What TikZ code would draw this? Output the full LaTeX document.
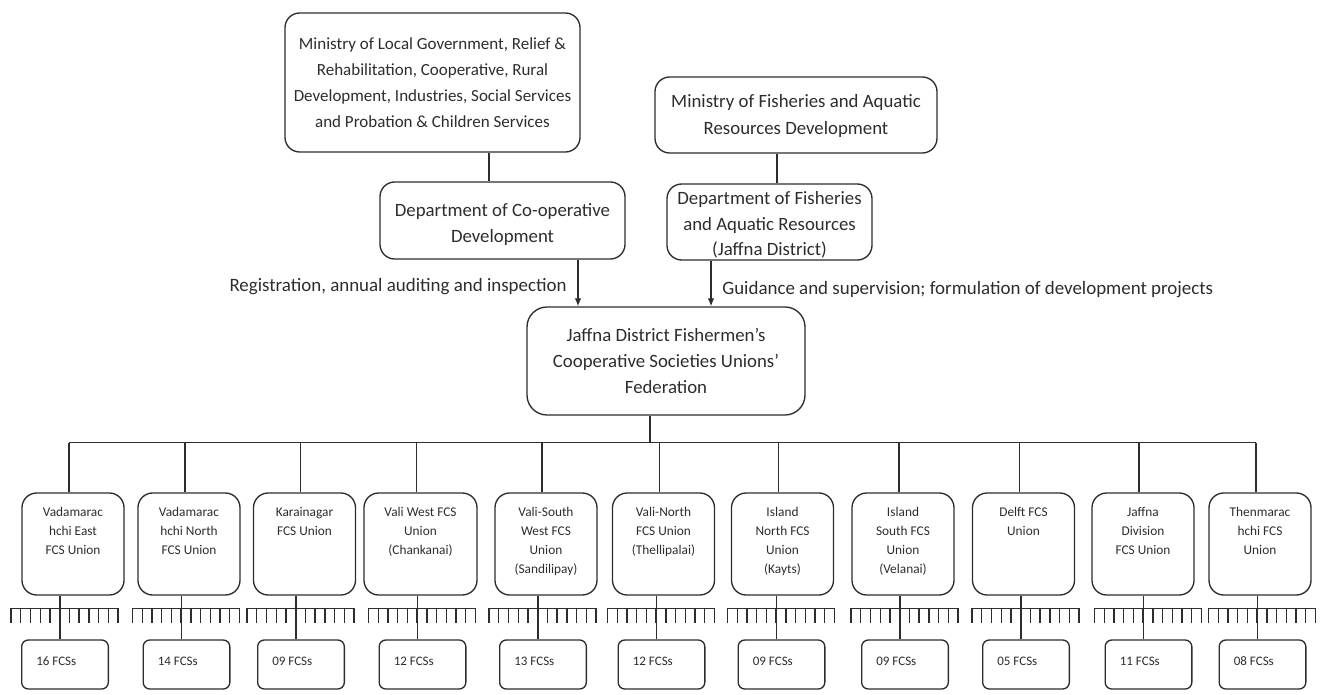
\documentclass[tikz,border=0pt]{standalone}
\usepackage{fontspec}
\setmainfont{Carlito}
\usetikzlibrary{calc,arrows.meta}

\definecolor{ink}{RGB}{45,45,45}

\tikzset{every picture/.style={line width=1pt}}
\tikzset{
  govbox/.style={draw=ink, text=ink, rounded corners=11pt, align=flush center, inner sep=0pt,
    font=\fontsize{14.1}{19.8}\selectfont},
  unionbox/.style={draw=ink, text=ink, rounded corners=11pt, align=flush center,
    text width=62pt, inner xsep=7.25pt, inner ysep=5pt,
    text height=12.25pt, text depth=54.25pt,
    font=\fontsize{10}{14.25}\selectfont},
  fcsbox/.style={draw=ink, text=ink, rounded corners=5pt, align=flush left,
    text width=43pt, inner xsep=11pt, inner ysep=4pt,
    text height=14.75pt, text depth=14pt,
    font=\fontsize{9.75}{12}\selectfont},
  lab/.style={text=ink, inner sep=0pt, font=\fontsize{14.2}{17}\selectfont},
  arr/.style={draw=ink, -{Latex[length=6pt,width=5pt]}}
}

\begin{document}
\begin{tikzpicture}[x=0.75pt,y=0.75pt,yscale=-1,xscale=1]
	\useasboundingbox (0,0) rectangle (1321,695);
	
	%Shape: Rounded Rect, ministries
	\node[govbox, font=\fontsize{12.75}{19.5}\selectfont, minimum width=221.25pt, minimum height=104.25pt] (minlg) at (432.5,82.5)
	  {Ministry of Local Government, Relief \&\\Rehabilitation, Cooperative, Rural\\Development, Industries, Social Services\\and Probation \& Children Services};
	\node[govbox, font=\fontsize{14.1}{20.25}\selectfont, text width=211.5pt, text height=23.25pt, text depth=33.75pt] (minfa) at (796,115)
	  {Ministry of Fisheries and Aquatic\\Resources Development};
	%Shape: Rounded Rect, departments
	\node[govbox, font=\fontsize{14.1}{19.5}\selectfont, text width=183.75pt, text height=26.25pt, text depth=31.5pt] (dcd) at (502.5,220.5)
	  {Department of Co-operative\\Development};
	\node[govbox, font=\fontsize{14.1}{19.1}\selectfont, text width=153.75pt, text height=15.75pt, text depth=41.25pt] (dfar) at (769.5,222)
	  {Department of Fisheries\\and Aquatic Resources\\(Jaffna District)};
	%Shape: Rounded Rect, federation
	\node[govbox, rounded corners=15pt, minimum width=208.5pt, minimum height=81pt] (fed) at (666,361)
	  {Jaffna District Fishermen's\\Cooperative Societies Unions'\\Federation};
	
	%Straight Lines, ministry to department
	\coordinate (j1) at ($(minlg.south)+(56.5,0)$);
	\draw[ink] (j1) -- (j1 |- dcd.north);
	\coordinate (j2) at ($(dfar.north)+(7.5,0)$);
	\draw[ink] (minfa.south -| j2) -- (j2);
	
	%Arrows into the federation
	\coordinate (a1) at ($(dcd.south)+(75.5,0)$);
	\draw[arr] (a1) -- (a1 |- fed.north)
	  node[lab, pos=0.58, left=8pt] (regtxt) {Registration, annual auditing and inspection};
	\coordinate (a2) at ($(dfar.south)+(-58.5,0)$);
	\draw[arr] (a2) -- (a2 |- fed.north)
	  node[lab, pos=0.64, right=8pt] (guidetxt) {Guidance and supervision; formulation of development projects};
	
	%Straight Lines, federation down to the bus
	\coordinate (bus) at ($(fed.south)+(-16,27)$);
	\draw[ink] (bus |- fed.south) -- (bus);
	
	%Shape: Rounded Rect, unions
	\node[unionbox] (u1) at (73,544) {Vadamarac\\hchi East\\FCS Union};
	\node[unionbox] (u2) at (189,544) {Vadamarac\\hchi North\\FCS Union};
	\node[unionbox] (u3) at (304.5,544) {Karainagar\\FCS Union};
	\node[unionbox, text width=70.25pt] (u4) at (420.5,544) {Vali West FCS\\Union\\(Chankanai)};
	\node[unionbox] (u5) at (546,544) {Vali-South\\West FCS\\Union\\(Sandilipay)};
	\node[unionbox] (u6) at (663.5,544) {Vali-North\\FCS Union\\(Thellipalai)};
	\node[unionbox] (u7) at (782.5,544) {Island\\North FCS\\Union\\(Kayts)};
	\node[unionbox] (u8) at (903,544) {Island\\South FCS\\Union\\(Velanai)};
	\node[unionbox] (u9) at (1023.5,544) {Delft FCS\\Union};
	\node[unionbox] (u10) at (1143,544) {Jaffna\\Division\\FCS Union};
	\node[unionbox] (u11) at (1260,544) {Thenmarac\\hchi FCS\\Union};
	
	%Shape: Rounded Rect, societies
	\node[fcsbox] (f1) at (65,664.5) {16 FCSs};
	\node[fcsbox] (f2) at (186.5,664.5) {14 FCSs};
	\node[fcsbox] (f3) at (301,664.5) {09 FCSs};
	\node[fcsbox] (f4) at (422.5,664.5) {12 FCSs};
	\node[fcsbox] (f5) at (543,664.5) {13 FCSs};
	\node[fcsbox] (f6) at (661.5,664.5) {12 FCSs};
	\node[fcsbox] (f7) at (781.5,664.5) {09 FCSs};
	\node[fcsbox] (f8) at (905,664.5) {09 FCSs};
	\node[fcsbox] (f9) at (1026,664.5) {05 FCSs};
	\node[fcsbox] (f10) at (1148.5,664.5) {11 FCSs};
	\node[fcsbox] (f11) at (1262.5,664.5) {08 FCSs};
	
	%Bus drops, links and combs
	\foreach \i in {1,...,11}{
		\coordinate (d\i) at ($(u\i.north)+(-4,0)$);
		\draw[ink] (d\i) -- (d\i |- bus);
		\coordinate (c\i) at ($(f\i.north)+(-5,-31)$);
		\draw[ink] (c\i |- u\i.south) -- (c\i |- f\i.north);
		\draw[ink] ($(c\i)+(-49,0)$) -- ($(c\i)+(58,0)$);
		\foreach \k in {0,...,11}
			\draw[ink] ($(c\i)+(-49+9.73*\k,0)$) -- ++(0,15);
	}
	\draw[ink] (d1 |- bus) -- (d11 |- bus);
	
\end{tikzpicture}
\end{document}
